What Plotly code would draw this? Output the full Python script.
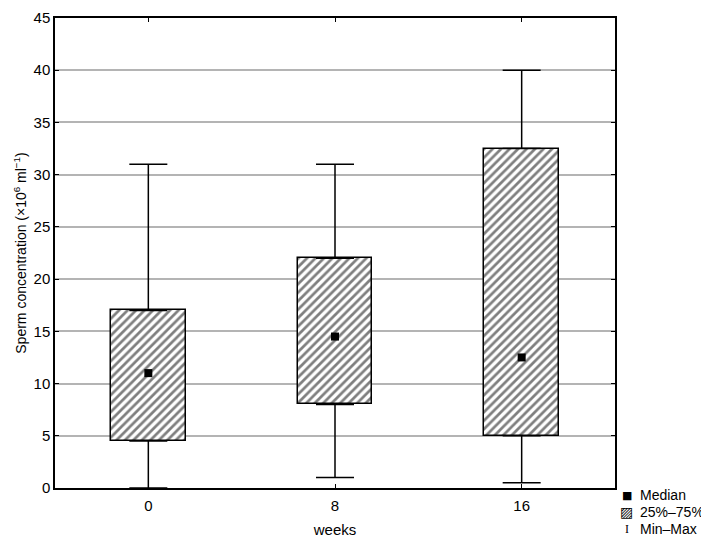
import plotly.graph_objects as go

weeks = ["0", "8", "16"]
x_pos = [0, 1, 2]
mins = [0, 1, 0.5]
q1 = [4.5, 8, 5]
medians = [11, 14.5, 12.5]
q3 = [17, 22, 32.5]
maxs = [31, 31, 40]

legend_labels = ["Median", "25%–75%", "Min–Max"]
legend_glyphs = ["■", "▨", "I"]

font = "Liberation Sans, Arial, sans-serif"

fig = go.Figure()

# IQR boxes
fig.add_trace(go.Bar(
    x=x_pos, y=[b - a for a, b in zip(q1, q3)], base=q1, width=0.4,
    name="25%–75%",
    marker=dict(color="white", line=dict(color="black", width=1.5),
                pattern=dict(shape="/", size=6, solidity=0.45, fgcolor="black", bgcolor="white")),
    showlegend=False,
))

# upper whiskers
fig.add_trace(go.Scatter(
    x=x_pos, y=q3, mode="markers", marker=dict(size=1, color="rgba(0,0,0,0)"),
    error_y=dict(type="data", symmetric=False, array=[m - q for m, q in zip(maxs, q3)],
                 arrayminus=[0, 0, 0], color="black", thickness=1.5, width=19),
    showlegend=False, hoverinfo="skip",
))
# lower whiskers
fig.add_trace(go.Scatter(
    x=x_pos, y=q1, mode="markers", marker=dict(size=1, color="rgba(0,0,0,0)"),
    error_y=dict(type="data", symmetric=False, array=[0, 0, 0],
                 arrayminus=[q - m for m, q in zip(mins, q1)], color="black", thickness=1.5, width=19),
    showlegend=False, hoverinfo="skip",
))

# medians
fig.add_trace(go.Scatter(
    x=x_pos, y=medians, mode="markers", name="Median",
    marker=dict(symbol="square", size=8, color="black"),
    showlegend=False,
))

# legend drawn as text rows below the right edge of the plot
row_y = [-0.0149, -0.0511, -0.0872]
glyph_fonts = [dict(family="DejaVu Sans", size=11, color="black"),
               dict(family="DejaVu Sans", size=14, color="black"),
               dict(family="Liberation Serif", size=12, color="black")]
annotations = []
for g, lab, yy, gf in zip(legend_glyphs, legend_labels, row_y, glyph_fonts):
    annotations.append(dict(x=1.0214, y=yy, xref="paper", yref="paper", text=g, showarrow=False,
                            xanchor="center", yanchor="middle", font=gf))
    annotations.append(dict(x=1.0411, y=yy, xref="paper", yref="paper", text=lab, showarrow=False,
                            xanchor="left", yanchor="middle", font=dict(family=font, size=14, color="black")))

# page body has an 8px default margin, so the figure is 8px smaller and margins shifted
fig.update_layout(
    width=701, height=530,
    margin=dict(l=47, r=94, t=10, b=50, autoexpand=False),
    paper_bgcolor="white", plot_bgcolor="white",
    font=dict(family=font, size=15, color="black"),
    bargap=0, showlegend=False,
    annotations=annotations,
    xaxis=dict(range=[-0.5, 2.5], tickmode="array", tickvals=x_pos, ticktext=weeks,
               showline=True, linecolor="black", linewidth=1.5, mirror="ticks",
               ticks="inside", ticklen=4, tickcolor="black", showgrid=False, zeroline=False,
               tickfont=dict(size=15), ticklabelstandoff=3,
               title=dict(text="weeks", font=dict(size=15), standoff=14)),
    yaxis=dict(range=[0, 45], dtick=5, showline=True, linecolor="black", linewidth=1.5,
               mirror="ticks", ticks="inside", ticklen=4, tickcolor="black",
               showgrid=True, gridcolor="#b4b4b4", gridwidth=1.5, zeroline=False,
               tickfont=dict(size=15),
               title=dict(text="Sperm concentration (×10<sup>6</sup> ml<sup>−1</sup>)",
                          font=dict(size=14), standoff=4)),
)

fig.write_html("out.html")
